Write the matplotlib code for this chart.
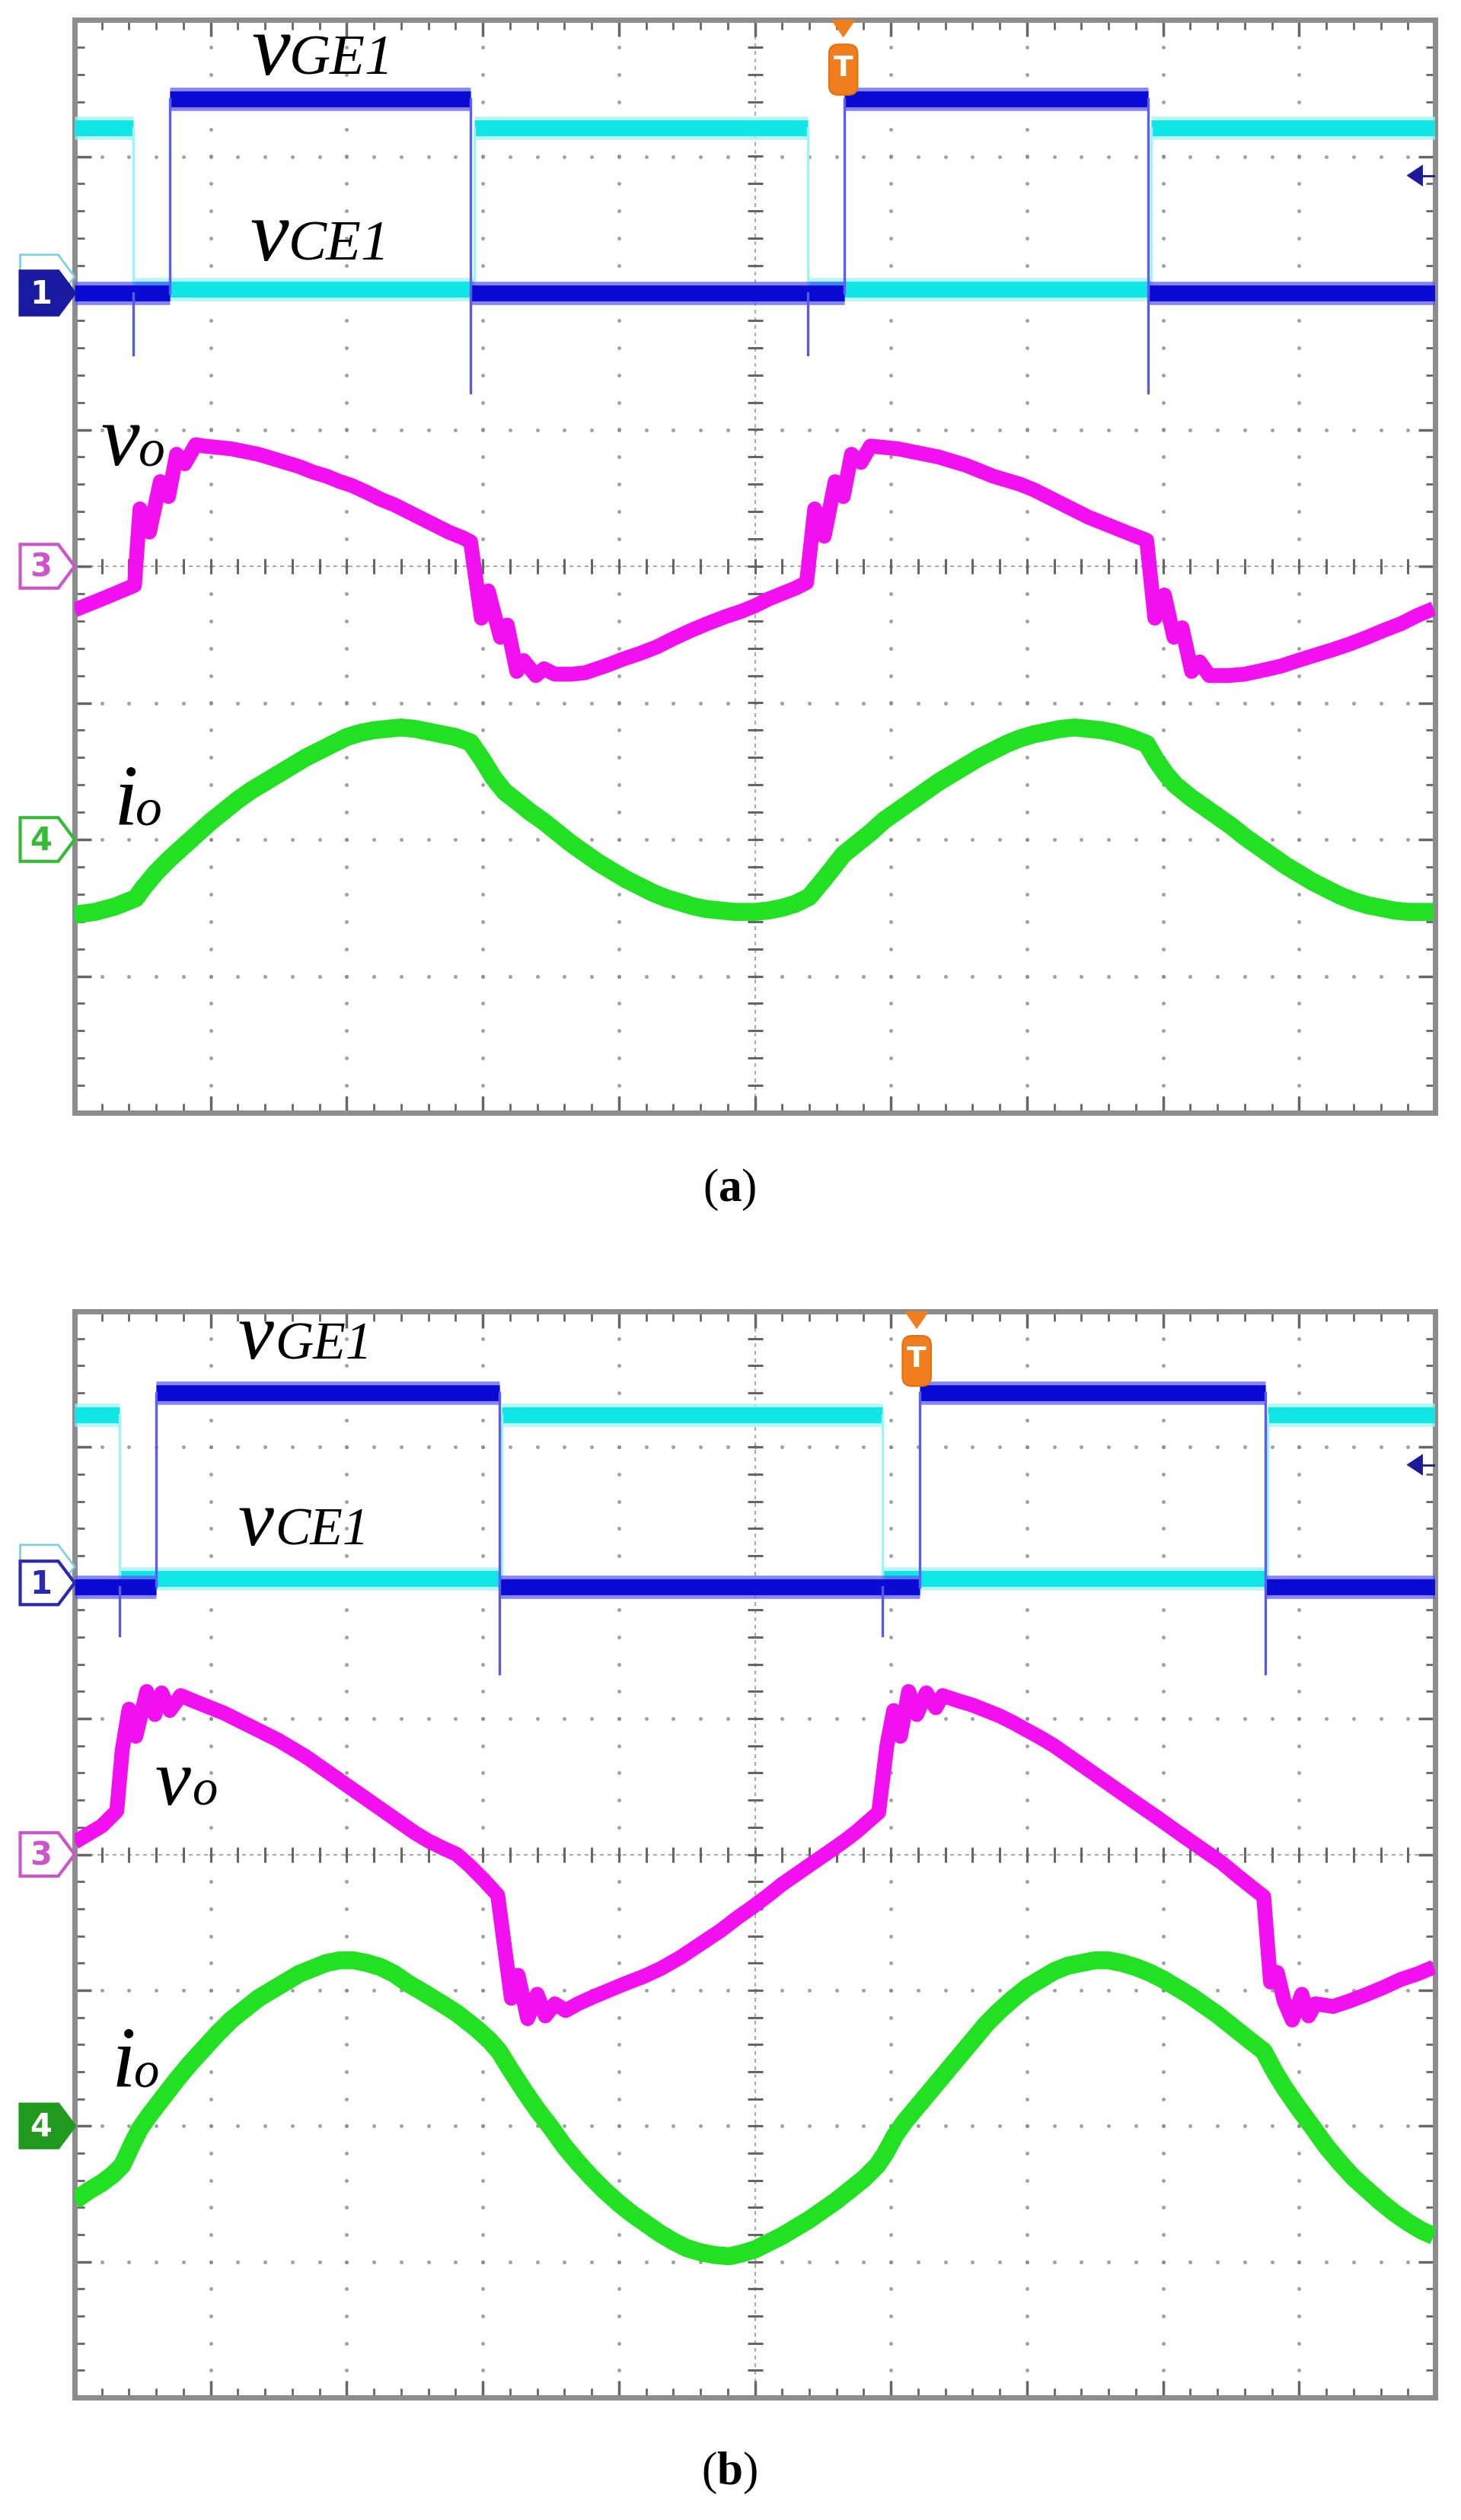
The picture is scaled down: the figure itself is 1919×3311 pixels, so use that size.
import numpy as np
import matplotlib
matplotlib.use("Agg")
import matplotlib.pyplot as plt
from matplotlib.patches import Polygon, FancyBboxPatch

plt.rcParams['font.family'] = ['Liberation Serif', 'DejaVu Serif']
plt.rcParams['mathtext.fontset'] = 'custom'
plt.rcParams['mathtext.rm'] = 'Liberation Serif'
plt.rcParams['mathtext.bf'] = 'Liberation Serif:bold'

# ---------------- data (scope divisions: x 0..10, y -4..4) ----------------
# Panel (a)
a_vge_rise = [0.70, 5.66]
a_vge_fall = [2.91, 7.89]
a_vce_fall = [0.43, 5.39]
a_vce_rise = [2.94, 7.91]
a_vge_levels = [2.00, 3.42]
a_vce_levels = [2.03, 3.21]
a_spike_cefall = 1.55
a_spike_gefall = 1.27
a_vo_x = [0.00, 0.20, 0.44, 0.48, 0.55, 0.63, 0.69, 0.75, 0.81, 0.89, 0.95, 1.05, 1.15, 1.25, 1.35,
          1.45, 1.55, 1.65, 1.75, 1.85, 1.95, 2.04, 2.15, 2.25, 2.35, 2.45, 2.55, 2.65, 2.75, 2.85,
          2.91, 2.99, 3.04, 3.13, 3.18, 3.25, 3.30, 3.39, 3.45, 3.53, 3.65, 3.75, 3.90, 4.03, 4.15,
          4.28, 4.40, 4.53, 4.65, 4.78, 4.90, 5.00, 5.10, 5.20, 5.30, 5.38, 5.44, 5.51, 5.59, 5.65,
          5.71, 5.78, 5.85, 5.95, 6.05, 6.15, 6.25, 6.35, 6.45, 6.55, 6.65, 6.75, 6.85, 6.95, 7.05,
          7.15, 7.25, 7.35, 7.45, 7.55, 7.65, 7.75, 7.88, 7.94, 8.01, 8.08, 8.14, 8.21, 8.27, 8.34,
          8.48, 8.60, 8.74, 8.87, 8.99, 9.12, 9.25, 9.37, 9.50, 9.62, 9.75, 9.87, 9.99]
a_vo_y = [-0.32, -0.24, -0.14, 0.42, 0.25, 0.62, 0.51, 0.82, 0.75, 0.89, 0.88, 0.87, 0.86, 0.84, 0.82,
          0.79, 0.76, 0.73, 0.69, 0.66, 0.62, 0.59, 0.54, 0.49, 0.45, 0.40, 0.35, 0.30, 0.25, 0.21,
          0.18, -0.38, -0.18, -0.52, -0.43, -0.77, -0.69, -0.80, -0.75, -0.79, -0.79, -0.78, -0.73, -0.68, -0.64,
          -0.59, -0.53, -0.47, -0.42, -0.37, -0.33, -0.29, -0.24, -0.20, -0.16, -0.12, 0.42, 0.22, 0.62, 0.51,
          0.82, 0.76, 0.88, 0.87, 0.86, 0.84, 0.82, 0.80, 0.77, 0.74, 0.70, 0.66, 0.63, 0.60, 0.56,
          0.51, 0.46, 0.41, 0.36, 0.32, 0.28, 0.24, 0.19, -0.38, -0.21, -0.52, -0.45, -0.77, -0.70, -0.80,
          -0.80, -0.79, -0.76, -0.73, -0.69, -0.65, -0.61, -0.57, -0.52, -0.47, -0.42, -0.36, -0.31]
a_io_x = [0.00, 0.15, 0.30, 0.45, 0.50, 0.60, 0.70, 0.80, 0.90, 1.00, 1.10, 1.20, 1.30, 1.40, 1.50,
          1.60, 1.70, 1.80, 1.90, 2.00, 2.10, 2.20, 2.30, 2.40, 2.50, 2.60, 2.70, 2.80, 2.91, 3.00,
          3.08, 3.16, 3.25, 3.35, 3.45, 3.55, 3.65, 3.75, 3.85, 3.95, 4.05, 4.15, 4.25, 4.35, 4.45,
          4.55, 4.65, 4.75, 4.85, 5.00, 5.10, 5.20, 5.30, 5.40, 5.50, 5.58, 5.65, 5.75, 5.85, 5.95,
          6.05, 6.15, 6.25, 6.35, 6.45, 6.55, 6.65, 6.75, 6.85, 6.95, 7.05, 7.15, 7.25, 7.35, 7.45,
          7.55, 7.65, 7.75, 7.88, 7.95, 8.02, 8.09, 8.20, 8.30, 8.40, 8.50, 8.60, 8.70, 8.80, 8.90,
          9.00, 9.10, 9.20, 9.30, 9.40, 9.50, 9.60, 9.70, 9.80, 9.99]
a_io_y = [-2.55, -2.53, -2.49, -2.43, -2.36, -2.24, -2.14, -2.05, -1.96, -1.87, -1.79, -1.71, -1.64, -1.58, -1.52,
          -1.46, -1.40, -1.35, -1.30, -1.25, -1.22, -1.20, -1.19, -1.18, -1.19, -1.21, -1.23, -1.25, -1.29, -1.42,
          -1.55, -1.65, -1.72, -1.80, -1.87, -1.95, -2.03, -2.10, -2.17, -2.23, -2.29, -2.34, -2.39, -2.43, -2.46,
          -2.49, -2.51, -2.52, -2.53, -2.53, -2.52, -2.50, -2.47, -2.42, -2.30, -2.20, -2.11, -2.03, -1.95, -1.86,
          -1.79, -1.72, -1.65, -1.58, -1.52, -1.46, -1.40, -1.35, -1.30, -1.26, -1.23, -1.21, -1.19, -1.18, -1.19,
          -1.20, -1.22, -1.25, -1.30, -1.42, -1.52, -1.60, -1.69, -1.76, -1.83, -1.90, -1.98, -2.05, -2.12, -2.19,
          -2.25, -2.31, -2.36, -2.41, -2.45, -2.48, -2.50, -2.52, -2.53, -2.53]

# Panel (b)
b_vge_rise = [0.60, 6.21]
b_vge_fall = [3.12, 8.75]
b_vce_fall = [0.33, 5.94]
b_vce_rise = [3.14, 8.77]
b_vge_levels = [1.97, 3.40]
b_vce_levels = [2.03, 3.24]
b_spike_cefall = 1.61
b_spike_gefall = 1.33
b_vo_x = [0.00, 0.10, 0.20, 0.31, 0.35, 0.40, 0.45, 0.53, 0.59, 0.64, 0.70, 0.78, 0.90, 1.00, 1.10,
          1.20, 1.30, 1.40, 1.50, 1.60, 1.70, 1.80, 1.90, 2.00, 2.10, 2.20, 2.30, 2.40, 2.50, 2.60,
          2.70, 2.81, 2.90, 3.00, 3.11, 3.21, 3.26, 3.33, 3.40, 3.46, 3.53, 3.61, 3.70, 3.81, 3.93,
          4.05, 4.18, 4.31, 4.45, 4.60, 4.75, 4.88, 4.98, 5.10, 5.20, 5.30, 5.43, 5.56, 5.66, 5.75,
          5.83, 5.91, 5.97, 6.02, 6.07, 6.13, 6.19, 6.26, 6.33, 6.38, 6.50, 6.60, 6.70, 6.80, 6.90,
          6.99, 7.10, 7.20, 7.30, 7.40, 7.50, 7.60, 7.70, 7.80, 7.96, 8.10, 8.20, 8.30, 8.43, 8.55,
          8.65, 8.74, 8.79, 8.84, 8.89, 8.95, 9.02, 9.07, 9.12, 9.25, 9.37, 9.50, 9.62, 9.75, 9.87,
          9.99]
b_vo_y = [0.09, 0.15, 0.21, 0.32, 0.77, 1.07, 0.87, 1.20, 1.03, 1.19, 1.06, 1.17, 1.12, 1.08, 1.04,
          0.99, 0.94, 0.89, 0.84, 0.78, 0.72, 0.65, 0.58, 0.51, 0.44, 0.37, 0.30, 0.23, 0.16, 0.10,
          0.05, 0.00, -0.08, -0.18, -0.30, -1.06, -0.89, -1.21, -1.03, -1.19, -1.10, -1.15, -1.10, -1.05, -1.00,
          -0.95, -0.90, -0.84, -0.76, -0.66, -0.56, -0.46, -0.39, -0.30, -0.22, -0.15, -0.06, 0.03, 0.10, 0.17,
          0.24, 0.31, 0.80, 1.06, 0.87, 1.20, 1.03, 1.19, 1.08, 1.17, 1.13, 1.10, 1.06, 1.02, 0.97,
          0.92, 0.86, 0.80, 0.73, 0.66, 0.59, 0.52, 0.45, 0.38, 0.27, 0.17, 0.10, 0.03, -0.06, -0.16,
          -0.24, -0.31, -0.94, -0.87, -1.08, -1.22, -1.03, -1.19, -1.10, -1.12, -1.08, -1.03, -0.98, -0.92, -0.88,
          -0.83]
b_io_x = [0.00, 0.10, 0.20, 0.28, 0.35, 0.42, 0.48, 0.55, 0.65, 0.75, 0.85, 0.95, 1.05, 1.15, 1.25,
          1.35, 1.45, 1.55, 1.65, 1.75, 1.85, 1.95, 2.05, 2.15, 2.25, 2.35, 2.45, 2.57, 2.70, 2.81,
          2.95, 3.05, 3.12, 3.20, 3.31, 3.40, 3.50, 3.60, 3.70, 3.80, 3.90, 4.00, 4.10, 4.20, 4.30,
          4.40, 4.50, 4.60, 4.70, 4.81, 4.90, 5.00, 5.10, 5.20, 5.30, 5.40, 5.50, 5.60, 5.70, 5.80,
          5.90, 5.96, 6.03, 6.10, 6.20, 6.30, 6.40, 6.50, 6.60, 6.70, 6.80, 6.90, 7.00, 7.10, 7.20,
          7.30, 7.40, 7.50, 7.60, 7.70, 7.80, 7.90, 8.00, 8.10, 8.20, 8.30, 8.40, 8.50, 8.60, 8.74,
          8.82, 8.90, 8.99, 9.10, 9.20, 9.30, 9.40, 9.50, 9.60, 9.70, 9.80, 9.90, 9.99]
b_io_y = [-2.55, -2.48, -2.42, -2.36, -2.29, -2.14, -2.02, -1.92, -1.79, -1.66, -1.54, -1.43, -1.32, -1.22, -1.14,
          -1.06, -1.00, -0.94, -0.88, -0.84, -0.80, -0.78, -0.78, -0.80, -0.83, -0.88, -0.95, -1.02, -1.10, -1.17,
          -1.28, -1.37, -1.45, -1.58, -1.75, -1.88, -2.01, -2.15, -2.27, -2.38, -2.48, -2.57, -2.65, -2.72, -2.79,
          -2.85, -2.90, -2.93, -2.95, -2.96, -2.94, -2.91, -2.86, -2.81, -2.75, -2.69, -2.62, -2.55, -2.47, -2.39,
          -2.29, -2.20, -2.07, -1.97, -1.85, -1.73, -1.61, -1.49, -1.37, -1.25, -1.15, -1.06, -0.98, -0.92, -0.86,
          -0.82, -0.80, -0.78, -0.78, -0.80, -0.83, -0.87, -0.92, -0.98, -1.04, -1.11, -1.18, -1.26, -1.34, -1.45,
          -1.60, -1.73, -1.86, -2.01, -2.15, -2.27, -2.38, -2.47, -2.56, -2.64, -2.71, -2.77, -2.81]

# channel ground markers and trigger
ch_levels = [2.0, 0.0, -2.0]
ch_labels = ['1', '3', '4']
a_trigger_x, a_trigger_level = 5.65, 2.86
b_trigger_x, b_trigger_level = 6.19, 2.87

# ---------------- figure ----------------
W, H = 1919, 3311
fig = plt.figure(figsize=(W / 100, H / 100), dpi=100)
fig.patch.set_facecolor('white')

BLUE = '#0a0ad4'
BLUE_FUZZ = '#5c5cf6'
CYAN = '#10e6e6'
CYAN_FUZZ = '#9ef4f4'
MAG = '#f210f0'
GREEN = '#22e022'
GRID = '#8a8a8a'


def add_axes_px(left, top, right, bottom):
    return fig.add_axes([left / W, 1 - bottom / H, (right - left) / W, (bottom - top) / H])


def scope_grid(ax):
    ax.set_xlim(0, 10)
    ax.set_ylim(-4, 4)
    ax.set_xticks(np.arange(0, 11, 1))
    ax.set_yticks(np.arange(-4, 5, 1))
    ax.set_xticks(np.arange(0, 10.01, 0.2), minor=True)
    ax.set_yticks(np.arange(-4, 4.01, 0.2), minor=True)
    ax.tick_params(which='both', direction='in', top=True, right=True,
                   labelbottom=False, labelleft=False, color='#666666')
    ax.tick_params(which='major', length=16, width=2.5)
    ax.tick_params(which='minor', length=9, width=2)
    for s in ax.spines.values():
        s.set_color('#8c8c8c')
        s.set_linewidth(5)
    fine = np.arange(0, 10.01, 0.2)
    finey = np.arange(-4, 4.01, 0.2)
    for gx in range(1, 10):
        if gx == 5:
            continue
        ax.plot(np.full_like(finey, gx), finey, ls='none', marker='o', ms=2.6,
                color=GRID, alpha=0.7, zorder=1)
    for gy in range(-3, 4):
        if gy == 0:
            continue
        ax.plot(fine, np.full_like(fine, gy), ls='none', marker='o', ms=2.6,
                color=GRID, alpha=0.7, zorder=1)
    ax.plot([5, 5], [-4, 4], ls=(0, (3, 3)), lw=1.2, color='#999999', zorder=1)
    ax.plot([0, 10], [0, 0], ls=(0, (3, 3)), lw=1.2, color='#999999', zorder=1)
    ax.plot(np.full_like(finey, 5), finey, ls='none', marker='_', ms=14, mew=2.2,
            color='#666666', zorder=1)
    ax.plot(fine, np.zeros_like(fine), ls='none', marker='|', ms=14, mew=2.2,
            color='#666666', zorder=1)


def level_segments(rises, falls, lo, hi):
    ev = sorted([(t, 1) for t in rises] + [(t, 0) for t in falls])
    state = 0 if ev[0][1] == 1 else 1
    segs, x0 = [], 0.0
    for t, new in ev:
        segs.append((x0, t, hi if state else lo))
        x0, state = t, new
    segs.append((x0, 10.0, hi if state else lo))
    return segs


def draw_switch(ax, rises, falls, levels, color, fuzz, lw, z):
    lo, hi = levels
    for x0, x1, lv in level_segments(rises, falls, lo, hi):
        ax.plot([x0, x1], [lv, lv], color=fuzz, lw=lw + 7, solid_capstyle='butt', zorder=z, alpha=0.75)
        ax.plot([x0, x1], [lv, lv], color=color, lw=lw, solid_capstyle='butt', zorder=z + 0.1)
    for t in list(rises) + list(falls):
        ax.plot([t, t], [lo, hi], color=fuzz, lw=2.4, zorder=z + 0.2)


def draw_spikes(ax, times, lo, depth):
    for t in times:
        ax.plot([t, t], [lo, depth], color='#5a5ae0', lw=2.4, zorder=5)


def marker(ax, y, label, color, filled, dy_ghost=None):
    x0, x1, xt = -0.40, -0.12, 0.0
    h = 0.16
    if dy_ghost is not None:
        gp = Polygon([(x0, y + dy_ghost - h), (x1, y + dy_ghost - h), (xt, y + dy_ghost),
                      (x1, y + dy_ghost + h), (x0, y + dy_ghost + h)], closed=True,
                     fc='white', ec='#7fd0e0', lw=2, clip_on=False, zorder=9)
        ax.add_patch(gp)
    p = Polygon([(x0, y - h), (x1, y - h), (xt, y), (x1, y + h), (x0, y + h)], closed=True,
                fc=color if filled else 'white', ec=color, lw=3, clip_on=False, zorder=10)
    ax.add_patch(p)
    ax.text((x0 + x1) / 2 + 0.01, y - 0.01, label, ha='center', va='center', fontsize=30,
            fontweight='bold', family='DejaVu Sans',
            color='white' if filled else color, clip_on=False, zorder=11)


def trigger_T(ax, x):
    ax.add_patch(Polygon([(x - 0.09, 4.0), (x + 0.09, 4.0), (x, 3.87)], closed=True,
                         fc='#f07e1e', ec='none', clip_on=False, zorder=12))
    ax.add_patch(FancyBboxPatch((x - 0.085, 3.47), 0.17, 0.33,
                                boxstyle='round,pad=0.02,rounding_size=0.07',
                                fc='#f07e1e', ec='#e07010', lw=1.5, zorder=12))
    ax.text(x, 3.645, 'T', ha='center', va='center', fontsize=27, fontweight='bold',
            family='DejaVu Sans', color='white', zorder=13)


def trigger_level(ax, x, y):
    ax.add_patch(Polygon([(x - 0.05, y), (x + 0.07, y + 0.08), (x + 0.07, y - 0.08)], closed=True,
                         fc='#1a1a9a', ec='none', zorder=12))
    ax.plot([x + 0.07, x + 0.17], [y, y], color='#1a1a9a', lw=2, zorder=12)


def label2(ax, x1, x2, yb, big, small, big_size, small_size):
    ax.text(x1, yb, big, fontsize=big_size, style='italic',
            ha='left', va='baseline', zorder=15, clip_on=False)
    ax.text(x2, yb, small, fontsize=small_size, style='italic',
            ha='left', va='baseline', zorder=15, clip_on=False)


ax_a = add_axes_px(98, 26, 1885, 1462)
ax_b = add_axes_px(98, 1723, 1885, 3150)

panels = [
    (ax_a, a_vge_rise, a_vge_fall, a_vce_fall, a_vce_rise, a_vge_levels, a_vce_levels,
     a_spike_cefall, a_spike_gefall, a_vo_x, a_vo_y, a_io_x, a_io_y, a_trigger_x, a_trigger_level),
    (ax_b, b_vge_rise, b_vge_fall, b_vce_fall, b_vce_rise, b_vge_levels, b_vce_levels,
     b_spike_cefall, b_spike_gefall, b_vo_x, b_vo_y, b_io_x, b_io_y, b_trigger_x, b_trigger_level),
]

for (ax, ge_r, ge_f, ce_f, ce_r, ge_lv, ce_lv, sp_ce, sp_ge,
     vo_x, vo_y, io_x, io_y, tx, tl) in panels:
    scope_grid(ax)
    draw_switch(ax, ce_r, ce_f, ce_lv, CYAN, CYAN_FUZZ, 15, 3)
    draw_switch(ax, ge_r, ge_f, ge_lv, BLUE, BLUE_FUZZ, 15, 4)
    draw_spikes(ax, ce_f, ge_lv[0], sp_ce)
    draw_spikes(ax, ge_f, ge_lv[0], sp_ge)
    ax.plot(vo_x, vo_y, color=MAG, lw=14, solid_joinstyle='round', solid_capstyle='butt', zorder=6)
    ax.plot(io_x, io_y, color=GREEN, lw=17, solid_joinstyle='round', solid_capstyle='butt', zorder=6)
    trigger_T(ax, tx)
    trigger_level(ax, 9.84, tl)

# channel markers
marker(ax_a, ch_levels[0], ch_labels[0], '#1a1aa0', True, dy_ghost=0.12)
marker(ax_a, ch_levels[1], ch_labels[1], '#cc55cc', False)
marker(ax_a, ch_levels[2], ch_labels[2], '#33bb33', False)
marker(ax_b, ch_levels[0], ch_labels[0], '#2a2ab0', False, dy_ghost=0.12)
marker(ax_b, ch_levels[1], ch_labels[1], '#cc55cc', False)
marker(ax_b, ch_levels[2], ch_labels[2], '#1f9a1f', True)

# trace labels
label2(ax_a, 1.30, 1.58, 3.60, 'v', 'GE1', 82, 54)
label2(ax_a, 1.29, 1.57, 2.24, 'v', 'CE1', 82, 54)
label2(ax_a, 0.19, 0.47, 0.74, 'v', 'o', 82, 50)
label2(ax_a, 0.29, 0.45, -1.89, 'i', 'o', 82, 50)
label2(ax_b, 1.20, 1.47, 3.65, 'v', 'GE1', 76, 50)
label2(ax_b, 1.20, 1.47, 2.28, 'v', 'CE1', 76, 50)
label2(ax_b, 0.59, 0.86, 0.37, 'v', 'o', 76, 48)
label2(ax_b, 0.27, 0.43, -1.71, 'i', 'o', 82, 48)

# captions
fig.text(958 / W, 1 - 1563 / H, '(' + r'$\mathbf{a}$' + ')', ha='center', va='center', fontsize=44)
fig.text(958 / W, 1 - 3249 / H, '(' + r'$\mathbf{b}$' + ')', ha='center', va='center', fontsize=44)

fig.savefig('out.png', dpi=100, facecolor='white')
